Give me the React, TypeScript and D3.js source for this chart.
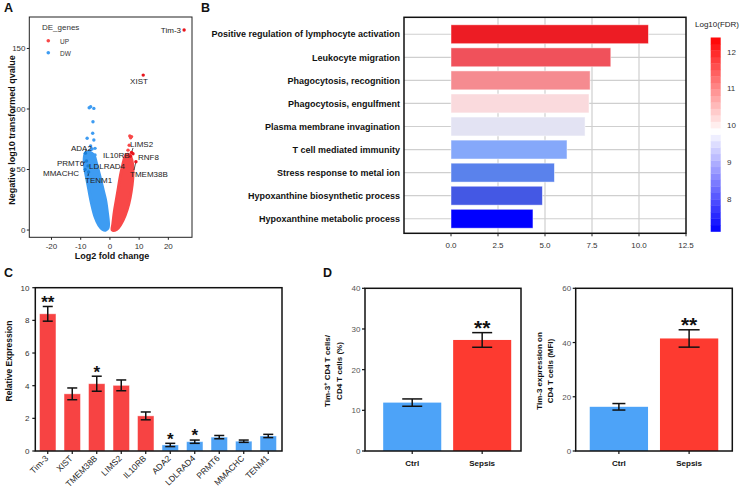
import React from 'react';
import * as d3 from 'd3';

const FONT = "'Liberation Sans', Arial, Helvetica, sans-serif";

// ---------------- Panel A: volcano ----------------
// dense clouds of points, given as their outline
const upCloud: [number, number][] = [
  [0.8, 0], [1.0, 5], [1.5, 15], [2.2, 25], [2.9, 35], [3.6, 45], [4.3, 53], [4.8, 58], [5.2, 61],
  [5.8, 62.5], [6.8, 62], [7.5, 58], [7.9, 50], [7.8, 42], [7.3, 32], [6.5, 22], [5.2, 12], [3.8, 5], [2.3, 0.5],
];
const downCloud: [number, number][] = [
  [-8.3, 64], [-8.8, 59], [-8.5, 50], [-7.9, 42], [-7.2, 33], [-6.3, 22], [-5.1, 11], [-3.8, 4], [-2.5, 0.5],
  [-1.4, 0], [-0.6, 2], [-0.5, 6], [-0.9, 15], [-1.5, 25], [-2.3, 33], [-3.5, 45], [-4.6, 55], [-5.3, 61], [-6.2, 63.5], [-7.4, 64.5],
];
const upPoints: [number, number][] = [[6.8, 77.7], [7.4, 77.2], [7.1, 76.2], [6.2, 66], [6.6, 70]];
const downPoints: [number, number][] = [
  [-7.1, 101], [-6.6, 101.9], [-5.5, 100.5], [-5.8, 89.5], [-5.9, 80], [-7.8, 75.8], [-5.5, 74.4],
  [-6.6, 69.4], [-5.1, 67.5], [-6.1, 67], [-7.8, 63.4], [-5.1, 62], [-6.8, 66],
];
const labeledGenes = ['Tim-3', 'XIST', 'LIMS2', 'IL10RB', 'RNF8', 'TMEM38B', 'ADA2', 'PRMT6', 'LDLRAD4', 'MMACHC', 'TENM1'];
const labeledFC = [25.4, 11.4, 7.4, 7.0, 7.9, 8.9, -8.4, -8.0, -7.5, -8.5, -7.3];
const labeledQ = [165.3, 128, 64, 61, 63, 56.4, 63.5, 57, 53, 50, 48];
const volcanoXTicks = [-20, -10, 0, 10, 20];
const volcanoYTicks = [0, 50, 100, 150];
const legendGroups = ['UP', 'DW'];

// label layout (pixel anchors of the texts and leader starts)
const labelLayout: { x: number; y: number; anchor: string; lx?: number; ly?: number }[] = [
  { x: 181, y: 33, anchor: 'end' },
  { x: 139, y: 84, anchor: 'middle' },
  { x: 130, y: 147, anchor: 'start', lx: 133, ly: 148 },
  { x: 103, y: 158, anchor: 'start', lx: 130, ly: 155 },
  { x: 138, y: 160, anchor: 'start' },
  { x: 130, y: 177, anchor: 'start', lx: 134, ly: 170 },
  { x: 71, y: 150.5, anchor: 'start', lx: 86, ly: 149 },
  { x: 57, y: 165.5, anchor: 'start', lx: 83, ly: 163 },
  { x: 89, y: 169, anchor: 'start', lx: 89, ly: 165 },
  { x: 43, y: 176, anchor: 'start', lx: 84, ly: 172 },
  { x: 85, y: 183, anchor: 'start', lx: 88, ly: 176 },
];

// ---------------- Panel B: GO enrichment ----------------
const goTerms = [
  'Positive regulation of lymphocyte activation',
  'Leukocyte migration',
  'Phagocytosis, recognition',
  'Phagocytosis, engulfment',
  'Plasma membrane invagination',
  'T cell mediated immunity',
  'Stress response to metal ion',
  'Hypoxanthine biosynthetic process',
  'Hypoxanthine metabolic process',
];
const goScore = [10.5, 8.5, 7.4, 7.34, 7.13, 6.17, 5.5, 4.86, 4.36];
const goTicks = [0, 2.5, 5, 7.5, 10, 12.5];
const fdrTicks = [8, 9, 10, 11, 12];
const fdrRange = [7.13, 12.38];
const goPalette = ['#ED1C24', '#F0515B', '#F58B90', '#FADADD', '#E3E3F3', '#85A8FA', '#5A82EC', '#4458E4', '#0000FF'];

// ---------------- Panel C: qPCR ----------------
const qGenes = ['Tim-3', 'XIST', 'TMEM38B', 'LIMS2', 'IL10RB', 'ADA2', 'LDLRAD4', 'PRMT6', 'MMACHC', 'TENM1'];
const qMean = [8.4, 3.5, 4.12, 4.02, 2.15, 0.37, 0.57, 0.85, 0.6, 0.92];
const qErr = [0.45, 0.36, 0.46, 0.33, 0.24, 0.1, 0.1, 0.1, 0.07, 0.1];
const qGroup = ['UP', 'UP', 'UP', 'UP', 'UP', 'DW', 'DW', 'DW', 'DW', 'DW'];
const qStars = ['**', '', '*', '', '', '*', '*', '', '', ''];
const qTicks = [0, 2, 4, 6, 8, 10];

// ---------------- Panel D: flow cytometry ----------------
const dGroups = ['Ctrl', 'Sepsis'];
const d1Mean = [11.9, 27.3];
const d1Err = [0.9, 1.8];
const d1Ticks = [0, 10, 20, 30, 40];
const d2Mean = [16.3, 41.5];
const d2Err = [1.2, 3.2];
const d2Ticks = [0, 20, 40, 60];
const dStars = ['', '**'];

const RED_A = '#F84848';
const BLUE_A = '#3E9CF2';
const RED_C = '#F74343';
const BLUE_C = '#4EA2F5';
const RED_D = '#FD3A30';
const BLUE_D = '#4DA3F8';

function PanelA() {
  const x = d3.scaleLinear().domain([-27.6, 28.1]).range([29.3, 192]);
  const y = d3.scaleLinear().domain([-6, 176]).range([237.3, 17]);
  const cloud = d3.line<[number, number]>().x(d => x(d[0])).y(d => y(d[1])).curve(d3.curveCatmullRomClosed);
  return (
    <g>
      <rect x={29.3} y={17} width={192 - 29.3} height={237.3 - 17} fill="white" stroke="#222" strokeWidth={1} />
      <path d={cloud(downCloud) || ''} fill={BLUE_A} stroke={BLUE_A} strokeWidth={3} strokeLinejoin="round" />
      <path d={cloud(upCloud) || ''} fill={RED_A} stroke={RED_A} strokeWidth={3} strokeLinejoin="round" />
      {downPoints.map((p, i) => <circle key={'d' + i} cx={x(p[0])} cy={y(p[1])} r={1.7} fill={BLUE_A} />)}
      {upPoints.map((p, i) => <circle key={'u' + i} cx={x(p[0])} cy={y(p[1])} r={1.7} fill={RED_A} />)}
      {labeledGenes.map((g, i) => {
        const L = labelLayout[i];
        const px = x(labeledFC[i]);
        const py = y(labeledQ[i]);
        return (
          <g key={g}>
            {L.lx !== undefined && <line x1={L.lx} y1={L.ly} x2={px} y2={py} stroke="#111" strokeWidth={0.7} />}
            <circle cx={px} cy={py} r={1.7} fill={labeledFC[i] > 0 ? '#E8141C' : '#1a7fd8'} />
            <text x={L.x} y={L.y} textAnchor={L.anchor} fontSize={8} fill="#222">{g}</text>
          </g>
        );
      })}
      {/* legend */}
      <text x={42} y={30} fontSize={8} fill="#333">DE_genes</text>
      {legendGroups.map((g, i) => (
        <g key={g}>
          <circle cx={48.3} cy={40.7 + i * 12} r={1.8} fill={g === 'UP' ? RED_A : BLUE_A} />
          <text x={60} y={43.5 + i * 12} fontSize={6.5} fill="#333">{g}</text>
        </g>
      ))}
      {/* axes */}
      {volcanoYTicks.map(t => (
        <g key={t}>
          <line x1={26.8} x2={29.3} y1={y(t)} y2={y(t)} stroke="#222" />
          <text x={25.5} y={y(t) + 2.8} fontSize={8} textAnchor="end" fill="#333">{t}</text>
        </g>
      ))}
      {volcanoXTicks.map(t => (
        <g key={t}>
          <line x1={x(t)} x2={x(t)} y1={237.3} y2={239.8} stroke="#222" />
          <text x={x(t)} y={249} fontSize={8} textAnchor="middle" fill="#333">{t}</text>
        </g>
      ))}
      <text x={112} y={258.5} fontSize={9} fontWeight="bold" textAnchor="middle" fill="#111">Log2 fold change</text>
      <text transform={`translate(14.5,${130}) rotate(-90)`} fontSize={9} fontWeight="bold" textAnchor="middle" fill="#111">
        Negative log10 transformed qvalue
      </text>
    </g>
  );
}

function PanelB() {
  const left = 404, right = 686, top = 17.3, bottom = 233.3;
  const x = d3.scaleLinear().domain([0, 12.5]).range([451, 686]);
  const y = d3.scaleBand<string>().domain(goTerms).range([22.5, 230.5]).paddingInner(0.18).paddingOuter(0.1);
  const cb = d3.scaleLinear().domain([fdrRange[0], fdrRange[1]]).range([231.5, 37.5]);
  const cbColor = d3.scaleLinear<string>().domain([fdrRange[0], 9.85, fdrRange[1]]).range(['#0000ff', '#ffffff', '#ff0000']);
  const nSteps = 30;
  const steps = d3.range(nSteps).map(i => fdrRange[0] + (i + 0.5) * (fdrRange[1] - fdrRange[0]) / nSteps);
  const stepH = (cb(fdrRange[0]) - cb(fdrRange[1])) / nSteps;
  return (
    <g>
      <rect x={left} y={top} width={right - left} height={bottom - top} fill="white" />
      {goTicks.filter(t => t > 0 && t < 12.5).map(t => (
        <line key={t} x1={x(t)} x2={x(t)} y1={top} y2={bottom} stroke="#cfcfcf" strokeWidth={1.2} />
      ))}
      {goTerms.map(t => (
        <line key={t} x1={left} x2={right} y1={y(t)! + y.bandwidth() / 2} y2={y(t)! + y.bandwidth() / 2} stroke="#cfcfcf" strokeWidth={1.2} />
      ))}
      {goTerms.map((t, i) => (
        <rect key={t} x={x(0)} y={y(t)} width={x(goScore[i]) - x(0)} height={y.bandwidth()} fill={goPalette[i]}
          stroke="#ffffff" strokeOpacity={0.6} strokeWidth={0.8} />
      ))}
      <rect x={left} y={top} width={right - left} height={bottom - top} fill="none" stroke="#111" strokeWidth={1.5} />
      {goTerms.map(t => (
        <text key={t} x={400} y={y(t)! + y.bandwidth() / 2 + 3.2} textAnchor="end" fontSize={9} fontWeight="bold" fill="#111">{t}</text>
      ))}
      {goTicks.map(t => (
        <g key={t}>
          <line x1={x(t)} x2={x(t)} y1={bottom} y2={bottom + 3} stroke="#222" />
          <text x={x(t)} y={248} textAnchor="middle" fontSize={8} fill="#333">{t.toFixed(1)}</text>
        </g>
      ))}
      {/* colour bar */}
      <text x={717} y={27} textAnchor="middle" fontSize={8} fill="#222">Log10(FDR)</text>
      {steps.map((v, i) => (
        <rect key={i} x={710.7} y={cb(v) - stepH / 2} width={10} height={stepH + 0.3} fill={cbColor(v)} />
      ))}
      {fdrTicks.map(t => (
        <text key={t} x={727} y={cb(t) + 3} fontSize={8} fill="#333">{t}</text>
      ))}
    </g>
  );
}

function Star({ x, y, s, size }: { x: number; y: number; s: string; size: number }) {
  return <text x={x} y={y + size * 0.55} textAnchor="middle" fontSize={size} fontWeight="bold" fill="#111">{s}</text>;
}

function PanelC() {
  const left = 35.3, right = 282, top = 287.7, bottom = 451;
  const y = d3.scaleLinear().domain([0, 10]).range([bottom, top]);
  const x = d3.scaleBand<string>().domain(qGenes).range([35.5, 280.5]).paddingInner(0.33).paddingOuter(0.165);
  return (
    <g>
      {qGenes.map((g, i) => {
        const cx = x(g)! + x.bandwidth() / 2;
        return (
          <g key={g}>
            <rect x={x(g)} y={y(qMean[i])} width={x.bandwidth()} height={bottom - y(qMean[i])}
              fill={qGroup[i] === 'UP' ? RED_C : BLUE_C} stroke="#fff" strokeOpacity={0.5} strokeWidth={0.8} />
            <line x1={cx} x2={cx} y1={y(qMean[i] + qErr[i])} y2={y(qMean[i] - qErr[i])} stroke="#111" strokeWidth={1.5} />
            <line x1={cx - 5} x2={cx + 5} y1={y(qMean[i] + qErr[i])} y2={y(qMean[i] + qErr[i])} stroke="#111" strokeWidth={1.5} />
            <line x1={cx - 5} x2={cx + 5} y1={y(qMean[i] - qErr[i])} y2={y(qMean[i] - qErr[i])} stroke="#111" strokeWidth={1.5} />
            {qStars[i] && <Star x={cx} y={y(qMean[i] + qErr[i]) - 8} s={qStars[i]} size={17} />}
            <line x1={cx} x2={cx} y1={bottom} y2={bottom + 3} stroke="#111" strokeWidth={1.2} />
            <text transform={`translate(${cx + 1},${bottom + 8}) rotate(-45)`} textAnchor="end" fontSize={8.5} fill="#222">{g}</text>
          </g>
        );
      })}
      <rect x={left} y={top} width={right - left} height={bottom - top} fill="none" stroke="#111" strokeWidth={1.5} />
      {qTicks.map(t => (
        <g key={t}>
          <line x1={left - 3} x2={left} y1={y(t)} y2={y(t)} stroke="#111" strokeWidth={1.2} />
          <text x={29.5} y={y(t) + 3} textAnchor="end" fontSize={8} fill="#333">{t}</text>
        </g>
      ))}
      <text transform={`translate(12,${361}) rotate(-90)`} textAnchor="middle" fontSize={8.5} fontWeight="bold" fill="#111">Relative Expression</text>
    </g>
  );
}

function PanelD({ left, right, means, errs, ticks, max, title, titleX, capW, align }:
  { left: number; right: number; means: number[]; errs: number[]; ticks: number[]; max: number; title: React.ReactNode[]; titleX: number[]; capW: number[]; align: number }) {
  const top = 288.3, bottom = 451;
  const y = d3.scaleLinear().domain([0, max]).range([bottom, top]);
  const x = d3.scaleBand<string>().domain(dGroups).range([left, right]).paddingInner(0.17).paddingOuter(0.2).align(align);
  return (
    <g>
      {dGroups.map((g, i) => {
        const cx = x(g)! + x.bandwidth() / 2;
        const hi = y(means[i] + errs[i]);
        const lo = y(means[i] - errs[i]);
        return (
          <g key={g}>
            <rect x={x(g)} y={y(means[i])} width={x.bandwidth()} height={bottom - y(means[i])} fill={i === 0 ? BLUE_D : RED_D} />
            <line x1={cx} x2={cx} y1={hi} y2={lo} stroke="#111" strokeWidth={1.5} />
            <line x1={cx - capW[i] / 2} x2={cx + capW[i] / 2} y1={hi} y2={hi} stroke="#111" strokeWidth={1.5} />
            <line x1={cx - capW[i] / 2} x2={cx + capW[i] / 2} y1={lo} y2={lo} stroke="#111" strokeWidth={1.5} />
            {dStars[i] && <Star x={cx} y={hi - 9} s={dStars[i]} size={21} />}
            <line x1={cx} x2={cx} y1={bottom} y2={bottom + 3} stroke="#111" strokeWidth={1.2} />
            <text x={cx} y={466} textAnchor="middle" fontSize={8} fontWeight="bold" fill="#111">{g}</text>
          </g>
        );
      })}
      <rect x={left} y={top} width={right - left} height={bottom - top} fill="none" stroke="#111" strokeWidth={1.5} />
      {ticks.map(t => (
        <g key={t}>
          <line x1={left - 3} x2={left} y1={y(t)} y2={y(t)} stroke="#111" strokeWidth={1.2} />
          <text x={left - 4.5} y={y(t) + 3} textAnchor="end" fontSize={8} fill="#555">{t}</text>
        </g>
      ))}
      {title.map((t, i) => (
        <text key={i} transform={`translate(${titleX[i]},${371}) rotate(-90)`} textAnchor="middle" fontSize={8} fontWeight="bold" fill="#111">{t}</text>
      ))}
    </g>
  );
}

export default function App() {
  return (
    <svg width={747} height={495} style={{ position: 'absolute', left: 0, top: 0, background: 'white' }} fontFamily={FONT}>
      <rect width={747} height={495} fill="white" />
      <text x={4} y={12} fontSize={12.5} fontWeight="bold" fill="#111">A</text>
      <text x={201} y={12} fontSize={12.5} fontWeight="bold" fill="#111">B</text>
      <text x={4} y={277} fontSize={12.5} fontWeight="bold" fill="#111">C</text>
      <text x={323} y={277} fontSize={12.5} fontWeight="bold" fill="#111">D</text>
      <PanelA />
      <PanelB />
      <PanelC />
      <PanelD left={365} right={521} means={d1Mean} errs={d1Err} ticks={d1Ticks} max={40}
        title={[<tspan key="a">Tim-3<tspan baselineShift="super" fontSize={5.5}>+</tspan> CD4 T cells/</tspan>, 'CD4 T cells (%)']}
        titleX={[330, 342]} capW={[20, 20]} align={0.65} />
      <PanelD left={575.7} right={732.3} means={d2Mean} errs={d2Err} ticks={d2Ticks} max={60}
        title={['Tim-3 expression on', 'CD4 T cells (MFI)']}
        titleX={[542, 553]} capW={[13, 21]} align={0.5} />
    </svg>
  );
}
